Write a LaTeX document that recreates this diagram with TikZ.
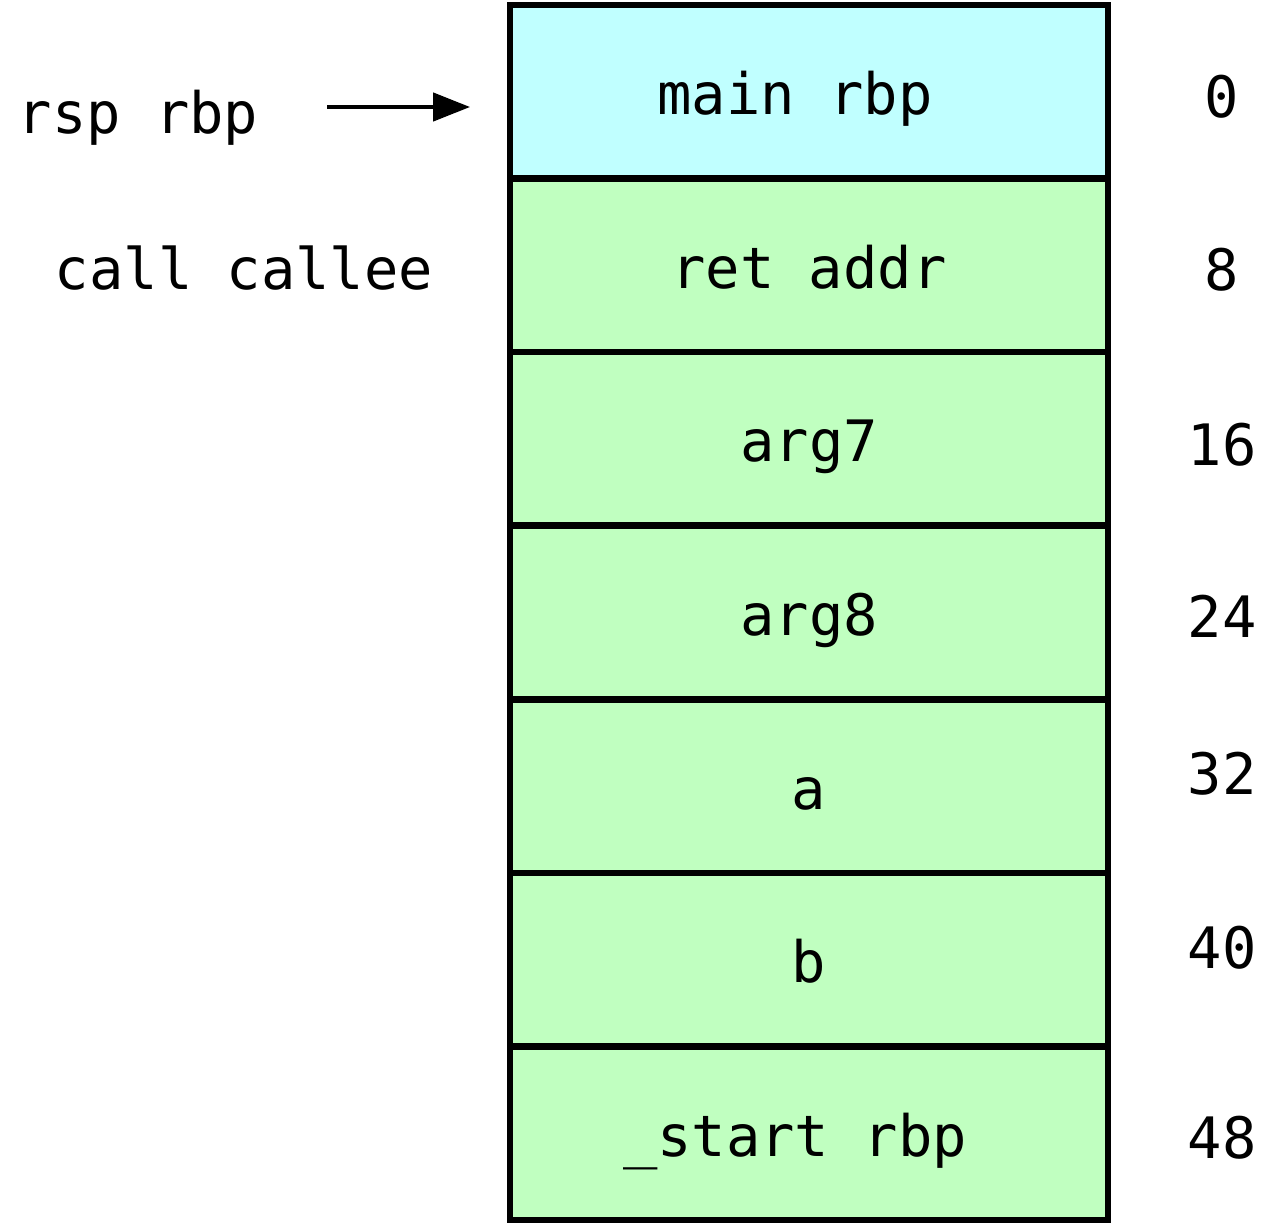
\documentclass[tikz,border=0pt]{standalone}
\usepackage{fontspec}
\setmonofont{DejaVu Sans Mono}
\usetikzlibrary{arrows.meta}
\definecolor{frameblue}{HTML}{C0FFFF}
\definecolor{framegreen}{HTML}{C0FFC0}

\begin{document}
\begin{tikzpicture}[x=0.02cm,y=-0.02cm,font=\ttfamily\fontsize{32.5}{38}\selectfont]
    \tikzstyle{cell}=[draw,line width=0.13cm,fill=framegreen,minimum width=11.96cm,minimum height=3.472cm,inner sep=0pt,outer sep=0pt,text height=0.92cm,text depth=0pt]
    \tikzstyle{offset}=[anchor=base,inner sep=0pt]
    \useasboundingbox (0,0) rectangle (1272,1224);
    \node[cell,fill=frameblue] (c_0) at (809,91.8) {main rbp\kern0.56cm};
    \node[cell,anchor=north] (c_1) at (c_0.south) {ret addr};
    \node[cell,anchor=north] (c_2) at (c_1.south) {arg7};
    \node[cell,anchor=north] (c_3) at (c_2.south) {arg8};
    \node[cell,anchor=north] (c_4) at (c_3.south) {a};
    \node[cell,anchor=north] (c_5) at (c_4.south) {b};
    \node[cell,anchor=north] (c_6) at (c_5.south) {\_start rbp\kern0.56cm};
    \node[offset] (n_0) at (1222,117) {0};
    \node[offset] (n_1) at (1222,290) {8};
    \node[offset] (n_2) at (1222,465) {16};
    \node[offset] (n_3) at (1222,637) {24};
    \node[offset] (n_4) at (1222,794) {32};
    \node[offset] (n_5) at (1222,968) {40};
    \node[offset] (n_6) at (1222,1158) {48};
    \node[offset] (rsp) at (138,133) {rsp rbp};
    \node[offset] (call) at (244,289) {call callee};
    \coordinate (tail) at (327,107);
    \draw[line width=0.09cm,-{Triangle[length=0.74cm,width=0.56cm]},shorten >=0.8cm] (tail) -- (c_0.west |- tail);
\end{tikzpicture}
\end{document}
